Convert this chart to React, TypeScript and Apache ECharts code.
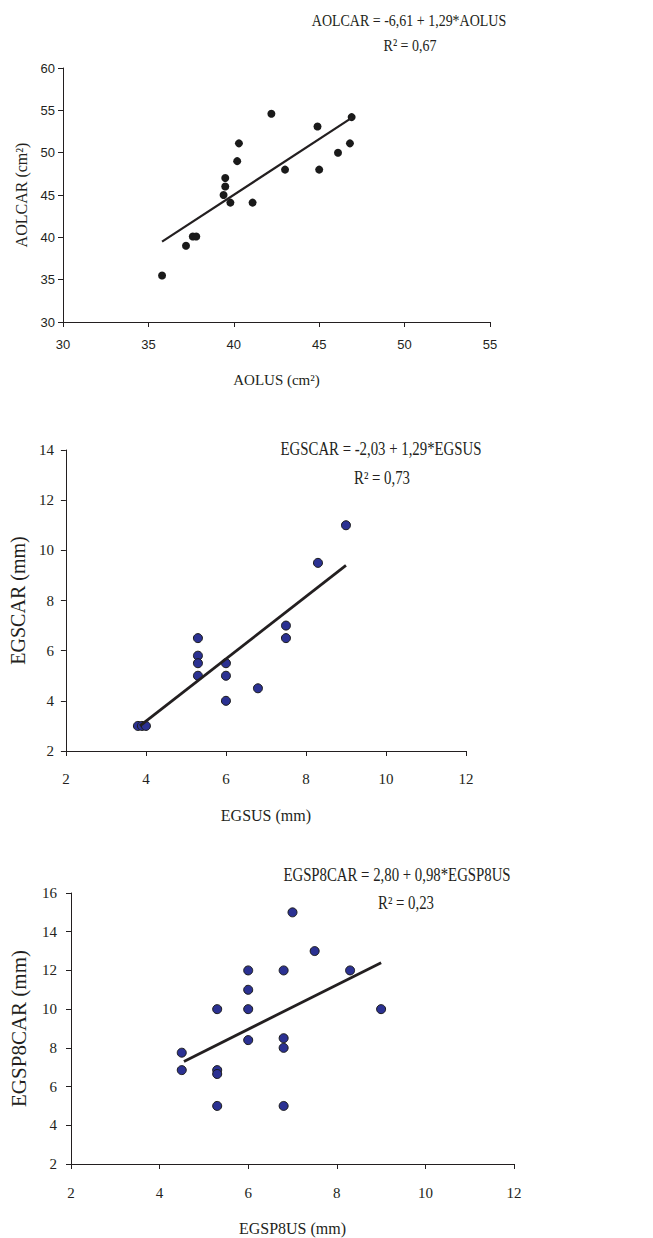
import React, { useEffect, useRef } from "react";
import * as echarts from "echarts";

// Chart 1: AOLUS vs AOLCAR
const aolus = [35.8, 37.2, 37.6, 37.8, 39.4, 39.5, 39.5, 39.8, 40.2, 40.3, 41.1, 42.2, 43.0, 44.9, 45.0, 46.1, 46.8, 46.9];
const aolcar = [35.5, 39.0, 40.1, 40.1, 45.0, 46.0, 47.0, 44.1, 49.0, 51.1, 44.1, 54.6, 48.0, 53.1, 48.0, 50.0, 51.1, 54.2];
const aolTrendX = [35.8, 46.9];
const aolTrendY = [39.5, 54.1];

// Chart 2: EGSUS vs EGSCAR
const egsus = [3.8, 3.9, 4.0, 5.3, 5.3, 5.3, 5.3, 6.0, 6.0, 6.0, 6.8, 7.5, 7.5, 8.3, 9.0];
const egscar = [3.0, 3.0, 3.0, 6.5, 5.8, 5.5, 5.0, 5.5, 5.0, 4.0, 4.5, 7.0, 6.5, 9.5, 11.0];
const egsTrendX = [3.85, 9.0];
const egsTrendY = [3.0, 9.4];

// Chart 3: EGSP8US vs EGSP8CAR
const egsp8us = [4.5, 4.5, 5.3, 5.3, 5.3, 5.3, 6.0, 6.0, 6.0, 6.0, 6.8, 6.8, 6.8, 6.8, 7.0, 7.5, 8.3, 9.0];
const egsp8car = [7.75, 6.85, 10.0, 6.85, 6.65, 5.0, 12.0, 11.0, 10.0, 8.4, 12.0, 8.5, 8.0, 5.0, 15.0, 13.0, 12.0, 10.0];
const egsp8TrendX = [4.55, 9.0];
const egsp8TrendY = [7.3, 12.4];

const equations = [
  ["AOLCAR = -6,61 + 1,29*AOLUS", "R² = 0,67"],
  ["EGSCAR = -2,03 + 1,29*EGSUS", "R² = 0,73"],
  ["EGSP8CAR = 2,80 + 0,98*EGSP8US", "R² = 0,23"],
];

const SERIF = "'Liberation Serif', 'Times New Roman', serif";
const SANS = "'Liberation Sans', Arial, sans-serif";
const INK = "#231f20";
const NAVY = "#2b3192";

function pairs(xs: number[], ys: number[]) {
  return xs.map((x, i) => [x, ys[i]]);
}

function makeAxis(
  gridIndex: number,
  min: number,
  max: number,
  interval: number,
  name: string,
  nameGap: number,
  nameSize: number,
  labelFont: string,
  labelSize: number,
  labelMargin: number
) {
  return {
    type: "value",
    gridIndex,
    min,
    max,
    interval,
    name,
    nameLocation: "middle",
    nameGap,
    nameTextStyle: { fontFamily: SERIF, fontSize: nameSize, color: INK },
    axisLine: { show: true, onZero: false, lineStyle: { color: INK, width: 1 } },
    axisTick: { show: true, inside: false, length: 5, lineStyle: { color: INK, width: 1 } },
    axisLabel: { fontFamily: labelFont, fontSize: labelSize, color: INK, margin: labelMargin },
    splitLine: { show: false },
  };
}

function eqText(text: string, x: number, y: number, size: number) {
  return {
    type: "text",
    x,
    y,
    scaleX: 0.8,
    style: {
      text,
      fontFamily: SERIF,
      fontSize: size,
      fill: INK,
      textAlign: "center",
      textVerticalAlign: "middle",
    },
  };
}

export default function App() {
  const ref = useRef<HTMLDivElement>(null);
  useEffect(() => {
    document.body.style.margin = "0";
    const chart = echarts.init(ref.current!, null, { renderer: "svg" });
    const scatterStyle = (fill: string, border: string, bw: number) => ({
      color: fill,
      borderColor: border,
      borderWidth: bw,
      opacity: 1,
    });
    const option: any = {
      animation: false,
      backgroundColor: "#ffffff",
      grid: [
        { left: 63, top: 68, width: 427, height: 254 },
        { left: 62, top: 450, width: 404, height: 301 },
        { left: 62, top: 893, width: 452, height: 271 },
      ],
      xAxis: [
        makeAxis(0, 30, 55, 5, "AOLUS (cm²)", 50, 15, SANS, 13, 16),
        makeAxis(1, 2, 12, 2, "EGSUS (mm)", 56, 16, SERIF, 15, 20),
        makeAxis(2, 2, 12, 2, "EGSP8US (mm)", 56, 16, SERIF, 15, 21),
      ],
      yAxis: [
        makeAxis(0, 30, 60, 5, "AOLCAR (cm²)", 20, 16, SANS, 13, 8),
        makeAxis(1, 2, 14, 2, "EGSCAR (mm)", 37, 20, SERIF, 15, 12),
        makeAxis(2, 2, 16, 2, "EGSP8CAR (mm)", 42, 21, SERIF, 15, 14),
      ],
      series: [
        {
          type: "scatter",
          xAxisIndex: 0,
          yAxisIndex: 0,
          symbolSize: 8,
          data: pairs(aolus, aolcar),
          itemStyle: scatterStyle("#1a1a1a", "#1a1a1a", 0),
        },
        {
          type: "line",
          xAxisIndex: 0,
          yAxisIndex: 0,
          symbol: "none",
          data: pairs(aolTrendX, aolTrendY),
          lineStyle: { color: INK, width: 2.2 },
        },
        {
          type: "scatter",
          xAxisIndex: 1,
          yAxisIndex: 1,
          symbolSize: 9,
          data: pairs(egsus, egscar),
          itemStyle: scatterStyle(NAVY, "#1a1a1a", 1),
        },
        {
          type: "line",
          xAxisIndex: 1,
          yAxisIndex: 1,
          symbol: "none",
          data: pairs(egsTrendX, egsTrendY),
          lineStyle: { color: INK, width: 2.8 },
          z: 3,
        },
        {
          type: "scatter",
          xAxisIndex: 2,
          yAxisIndex: 2,
          symbolSize: 9,
          data: pairs(egsp8us, egsp8car),
          itemStyle: scatterStyle(NAVY, "#1a1a1a", 1),
        },
        {
          type: "line",
          xAxisIndex: 2,
          yAxisIndex: 2,
          symbol: "none",
          data: pairs(egsp8TrendX, egsp8TrendY),
          lineStyle: { color: INK, width: 2.8 },
          z: 3,
        },
      ],
      graphic: [
        eqText(equations[0][0], 409, 20, 17.5),
        eqText(equations[0][1], 410, 45, 17.5),
        eqText(equations[1][0], 381, 449, 18.5),
        eqText(equations[1][1], 382, 478, 18.5),
        eqText(equations[2][0], 397, 875, 18.5),
        eqText(equations[2][1], 406, 903, 18.5),
      ],
    };
    chart.setOption(option);
    return () => chart.dispose();
  }, []);
  return <div ref={ref} style={{ width: 653, height: 1238 }} />;
}
